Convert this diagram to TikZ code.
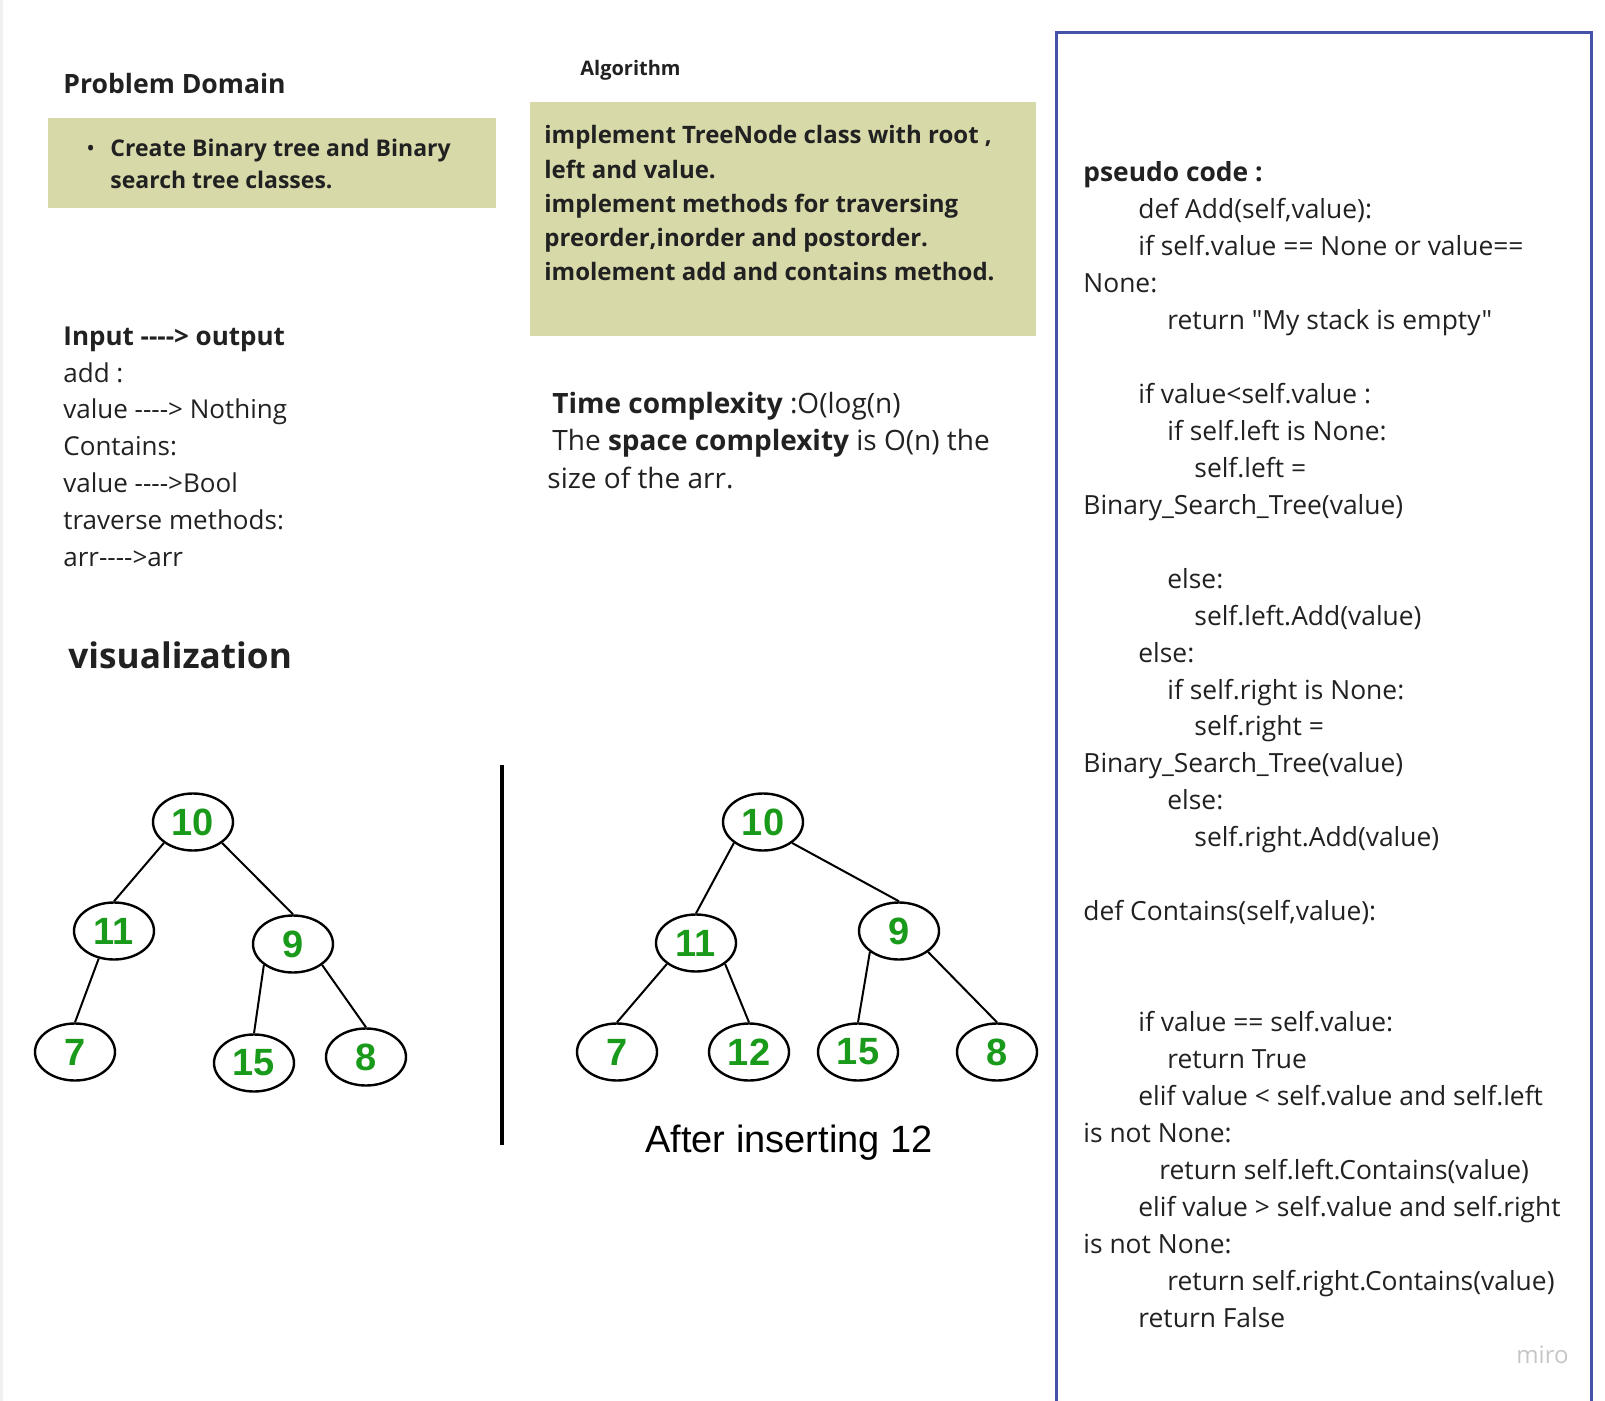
\documentclass[tikz,border=0pt]{standalone}
\usepackage{fontspec}
\setmainfont{Open Sans}[Ligatures=TeXOff]
\newfontfamily\arialfont{Liberation Sans}
\usetikzlibrary{shapes.geometric}
\definecolor{inkgray}{HTML}{212121}
\definecolor{boxolive}{HTML}{D8D9A9}
\definecolor{frameblue}{HTML}{4652A8}
\definecolor{numgreen}{HTML}{1A9A1A}

\begin{document}
\begin{tikzpicture}[x=0.5pt,y=-0.5pt,
    txt/.style={anchor=base west,inner sep=0pt,align=left,text=inkgray},
    body/.style={txt,font=\fontsize{13}{18.4}\selectfont},
    boxtxt/.style={txt,font=\bfseries\fontsize{11.5}{16}\selectfont},
    treenode/.style={draw,ellipse,line width=1.2pt,minimum width=40pt,
      minimum height=28.5pt,inner sep=0pt,text=numgreen,
      font=\arialfont\bfseries\fontsize{19}{19}\selectfont},
    treeedge/.style={line width=1pt}]
  \useasboundingbox (0,0) rectangle (1605,1401);
  \fill[gray!12] (0,0) rectangle (3,1401);

  % problem domain (multi-line nodes sit on their last baseline)
  \node[txt,font=\bfseries\fontsize{13.3}{13.3}\selectfont] (pdtitle) at (63,94) {Problem Domain};
  \fill[boxolive] (48,118) rectangle (496,208);
  \node[txt,font=\fontsize{11.5}{11.5}\selectfont] (bullet) at (86,157) {•};
  \node[boxtxt] (pdtext) at (110,189) {Create Binary tree and Binary\\search tree classes.};

  % algorithm
  \node[txt,font=\bfseries\fontsize{10}{10}\selectfont] (algtitle) at (580,76) {Algorithm};
  \fill[boxolive] (530,102) rectangle (1036,336);
  \node[txt,font=\bfseries\fontsize{12}{17.15}\selectfont] (algtext) at (544,281)
    {implement TreeNode class with root ,\\left and value.\\implement methods for traversing\\
     preorder,inorder and postorder.\\imolement add and contains method.};

  \node[body] (io) at (63,566) {\textbf{Input ----> output}\\add :\\value ----> Nothing\\
    Contains:\\value ---->Bool\\traverse methods:\\arr---->arr};
  \node[body,font=\fontsize{14}{18.6}\selectfont] (cplx) at (547,488)
    {\hspace*{2.5pt}\textbf{Time complexity} :O(log(n)\\
    \hspace*{2.5pt}The \textbf{space complexity} is O(n) the\\size of the arr.};

  \node[txt,font=\bfseries\fontsize{17.6}{17.6}\selectfont] (vis) at (68,668) {visualization};

  % trees
  \node[treenode] (l10) at (193,822) {10};
  \node[treenode] (l11) at (114,931) {11};
  \node[treenode] (l9) at (293,944) {9};
  \node[treenode] (l7) at (75,1052) {7};
  \node[treenode] (l15) at (254,1063) {15};
  \node[treenode] (l8) at (366,1057) {8};
  \draw[treeedge] (l10.south west)--(l11.north) (l10.south east)--(l9.north)
    (l11.241)--(l7.north) (l9.south west)--(l15.north) (l9.south east)--(l8.north);

  \coordinate (divtop) at (502,765);
  \coordinate (divbot) at (502,1145);
  \draw[line width=2pt] (divtop)--(divbot);

  \node[treenode] (r10) at (763,822) {10};
  \node[treenode] (r11) at (696,943) {11};
  \node[treenode] (r9) at (899,931) {9};
  \node[treenode] (r7) at (617,1052) {7};
  \node[treenode] (r12) at (749,1052) {12};
  \node[treenode] (r15) at (858,1052) {15};
  \node[treenode] (r8) at (997,1052) {8};
  \draw[treeedge] (r10.south west)--(r11.north) (r10.south east)--(r9.north)
    (r11.south west)--(r7.north) (r11.south east)--(r12.north)
    (r9.south west)--(r15.north) (r9.south east)--(r8.north);
  \node[anchor=base,inner sep=0pt,font=\arialfont\fontsize{19}{19}\selectfont]
    (after) at (789,1152) {After inserting 12};

  % pseudo code frame
  \draw[frameblue,line width=1.5pt] (1056,1410)--(1056,33)--(1591,33)--(1591,1410);
  \node[body,font=\fontsize{13.2}{18.47}\selectfont] (code) at (1083,1327) {\textbf{pseudo code :}\\
    \hspace*{27.5pt}def Add(self,value):\\
    \hspace*{27.5pt}if self.value == None or value==\\
    None:\\
    \hspace*{42pt}return "My stack is empty"\\
    \mbox{}\\
    \hspace*{27.5pt}if value<self.value :\\
    \hspace*{42pt}if self.left is None:\\
    \hspace*{55.5pt}self.left =\\
    Binary\_Search\_Tree(value)\\
    \mbox{}\\
    \hspace*{42pt}else:\\
    \hspace*{55.5pt}self.left.Add(value)\\
    \hspace*{27.5pt}else:\\
    \hspace*{42pt}if self.right is None:\\
    \hspace*{55.5pt}self.right =\\
    Binary\_Search\_Tree(value)\\
    \hspace*{42pt}else:\\
    \hspace*{55.5pt}self.right.Add(value)\\
    \mbox{}\\
    def Contains(self,value):\\
    \mbox{}\\
    \mbox{}\\
    \hspace*{27.5pt}if value == self.value:\\
    \hspace*{42pt}return True\\
    \hspace*{27.5pt}elif value < self.value and self.left\\
    is not None:\\
    \hspace*{38pt}return self.left.Contains(value)\\
    \hspace*{27.5pt}elif value > self.value and self.right\\
    is not None:\\
    \hspace*{42pt}return self.right.Contains(value)\\
    \hspace*{27.5pt}return False};
  \node[anchor=base east,inner sep=0pt,text=gray!45,font=\fontsize{12}{12}\selectfont]
    (miro) at (1569,1363) {miro};
\end{tikzpicture}
\end{document}
